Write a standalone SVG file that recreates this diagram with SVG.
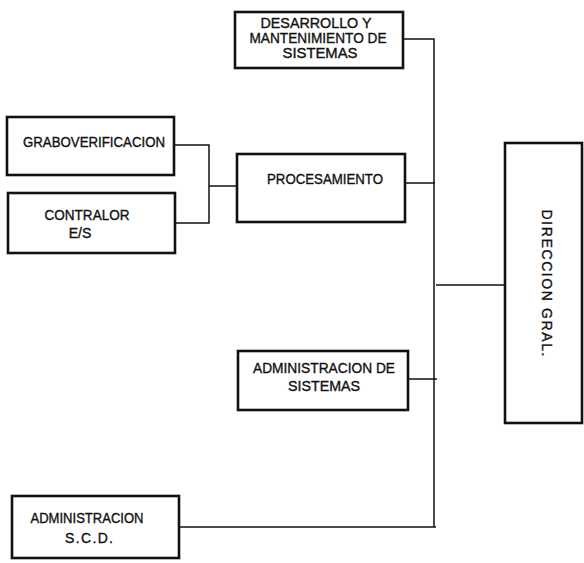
<svg xmlns="http://www.w3.org/2000/svg" width="584" height="563" viewBox="0 0 584 563">
<style>
.box{fill:#fff;stroke:#111;stroke-width:2.6}
.ln{fill:none;stroke:#111;stroke-width:1.5}
text{font-family:"Liberation Sans",Arial,sans-serif;font-size:14px;fill:#111;stroke:#111;stroke-width:0.35;text-anchor:middle}
</style>
<rect width="584" height="563" fill="#fff"/>
<g id="connectors">
<path class="ln" d="M403 39H434V527"/>
<path class="ln" d="M405 183H435"/>
<path class="ln" d="M436 285H505"/>
<path class="ln" d="M408 379H437"/>
<path class="ln" d="M179 527H436"/>
<path class="ln" d="M174 145H209V223H175"/>
<path class="ln" d="M209 186H237"/>
</g>
<g id="desarrollo">
<rect class="box" x="235" y="12" width="168" height="56"/>
<text x="316" y="28" textLength="111" lengthAdjust="spacingAndGlyphs">DESARROLLO  Y</text>
<text x="318" y="43" textLength="137" lengthAdjust="spacingAndGlyphs">MANTENIMIENTO DE</text>
<text x="320" y="58" textLength="75" lengthAdjust="spacingAndGlyphs">SISTEMAS</text>
</g>
<g id="graboverificacion">
<rect class="box" x="7" y="117" width="167" height="58"/>
<text x="94" y="147" textLength="142" lengthAdjust="spacingAndGlyphs">GRABOVERIFICACION</text>
</g>
<g id="contralor">
<rect class="box" x="8" y="193" width="167" height="60"/>
<text x="87" y="220" textLength="85" lengthAdjust="spacingAndGlyphs">CONTRALOR</text>
<text x="80" y="238">E/S</text>
</g>
<g id="procesamiento">
<rect class="box" x="237" y="154" width="168" height="68"/>
<text x="325" y="184" textLength="116" lengthAdjust="spacingAndGlyphs">PROCESAMIENTO</text>
</g>
<g id="direccion">
<rect class="box" x="505" y="143" width="77" height="280"/>
<text transform="translate(542 283) rotate(90)" textLength="147" lengthAdjust="spacing">DIRECCION  GRAL.</text>
</g>
<g id="admin-sistemas">
<rect class="box" x="238" y="351" width="170" height="59"/>
<text x="324" y="373" textLength="142" lengthAdjust="spacingAndGlyphs">ADMINISTRACION  DE</text>
<text x="324" y="391" textLength="72" lengthAdjust="spacingAndGlyphs">SISTEMAS</text>
</g>
<g id="admin-scd">
<rect class="box" x="12" y="496" width="167" height="62"/>
<text x="87" y="523" textLength="113" lengthAdjust="spacingAndGlyphs">ADMINISTRACION</text>
<text x="89" y="543" textLength="48" lengthAdjust="spacing">S.C.D.</text>
</g>
</svg>
